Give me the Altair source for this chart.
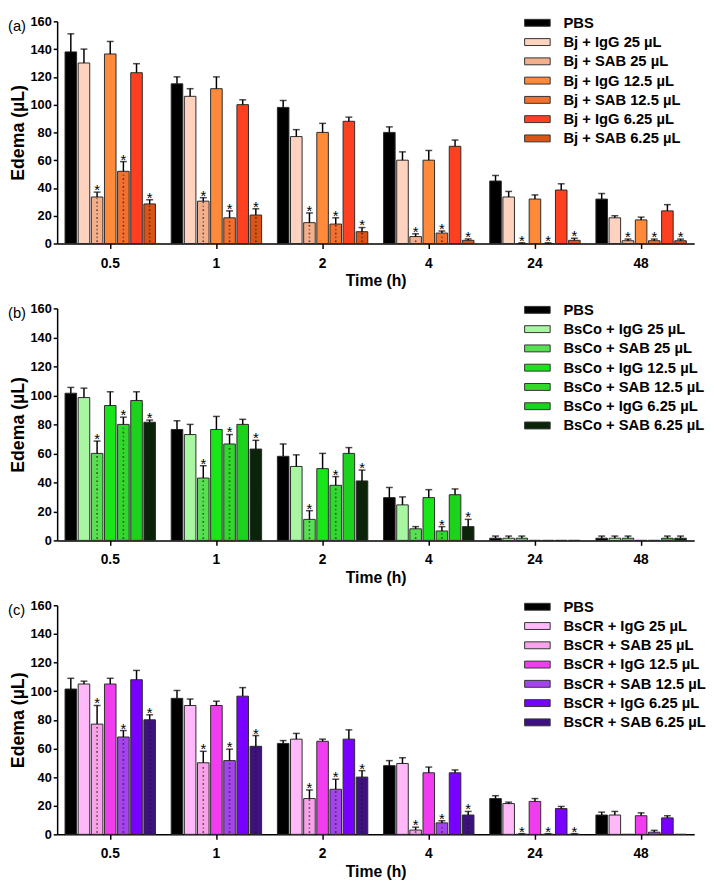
import altair as alt
import pandas as pd

times = ["0.5", "1", "2", "4", "24", "48"]
kinds = ["PBS", "IgG 25 µL", "SAB 25 µL", "IgG 12.5 µL", "SAB 12.5 µL", "IgG 6.25 µL", "SAB 6.25 µL"]

# ---------- panel (a) Bj ----------
a_vals = [
    [138, 115, 98, 80, 45, 32],
    [130, 106, 77, 60, 33.5, 18.5],
    [33.5, 30.5, 15, 5, 0, 2],
    [136.5, 111.5, 80, 60, 32, 17],
    [52, 18.5, 14, 7.5, 0, 2],
    [123, 100, 88, 70, 38.5, 23.5],
    [28.5, 20.5, 8.5, 2.3, 2.3, 2],
]
a_errs = [
    [13, 5, 5, 4, 4, 4],
    [10, 5.5, 5, 6, 4, 1.5],
    [3.5, 2.5, 7, 2, 0.5, 1.2],
    [9, 8.5, 6.5, 7, 3, 2],
    [7, 5, 4.5, 1.5, 0.5, 1.2],
    [6.5, 3.5, 3, 4.5, 4.5, 4.5],
    [3, 4.5, 3, 1, 1.5, 1.2],
]
a_stars = [
    [0, 0, 0, 0, 0, 0],
    [0, 0, 0, 0, 0, 0],
    [1, 1, 1, 1, 1, 1],
    [0, 0, 0, 0, 0, 0],
    [1, 1, 1, 1, 1, 1],
    [0, 0, 0, 0, 0, 0],
    [1, 1, 1, 1, 1, 1],
]
a_colors = ["#000000", "#FDD3C0", "#F4B08C", "#FF8A3A", "#F27030", "#FF4020", "#DA5418"]

# ---------- panel (b) BsCo ----------
b_vals = [
    [101.5, 76.5, 58, 29.5, 1.5, 1.5],
    [98.5, 73, 51, 24.5, 1.5, 1.5],
    [60, 43, 14.5, 8, 1.5, 1.5],
    [93, 76.5, 49.5, 29.5, 0, 0],
    [80, 66.5, 38, 6.5, 0, 0],
    [96.5, 80, 60, 31.5, 0, 1.5],
    [81.5, 63, 41, 9.5, 0, 1.5],
]
b_errs = [
    [4, 6, 8.5, 7, 1.5, 1.5],
    [6.5, 7, 8, 5.5, 1.5, 1.5],
    [8.5, 8.5, 6, 1.5, 1.5, 1.5],
    [9.5, 9, 10.5, 5.5, 0, 0],
    [5, 6.5, 6, 3, 0, 0],
    [6, 3.5, 4, 4, 0, 1.5],
    [1.5, 6, 7.5, 5, 0, 1.5],
]
b_stars = [
    [0, 0, 0, 0, 0, 0],
    [0, 0, 0, 0, 0, 0],
    [1, 1, 1, 0, 0, 0],
    [0, 0, 0, 0, 0, 0],
    [1, 1, 1, 1, 0, 0],
    [0, 0, 0, 0, 0, 0],
    [1, 1, 1, 1, 0, 0],
]
b_colors = ["#000000", "#A8F5A2", "#58E054", "#19E619", "#30D830", "#1CD21C", "#0A240A"]

# ---------- panel (c) BsCR ----------
c_vals = [
    [101.5, 95, 63.5, 48, 25, 13.5],
    [105, 90, 66.5, 49.5, 21.5, 13.5],
    [77, 50, 25, 3, 0, 0],
    [105, 90, 65, 43, 23, 13],
    [68, 51.5, 31.5, 8, 0, 1.5],
    [108, 96.5, 66.5, 43, 18, 11.5],
    [80, 61.5, 40, 13.5, 0, 0],
]
c_errs = [
    [7.5, 5.5, 2, 3.5, 2, 2],
    [2, 4.5, 4, 4, 1, 2.5],
    [13, 8, 6, 2, 0.5, 0],
    [4, 3, 1.5, 4, 2, 2],
    [4.5, 8, 7, 1.5, 0.5, 1.3],
    [6.5, 6, 6.5, 2, 1.5, 1.5],
    [3.5, 7.5, 4.5, 2.5, 0.5, 0],
]
c_stars = [
    [0, 0, 0, 0, 0, 0],
    [0, 0, 0, 0, 0, 0],
    [1, 1, 1, 1, 1, 0],
    [0, 0, 0, 0, 0, 0],
    [1, 1, 1, 1, 1, 0],
    [0, 0, 0, 0, 0, 0],
    [1, 1, 1, 1, 1, 0],
]
c_colors = ["#000000", "#FFB8F8", "#F7A2EA", "#F03DF0", "#A444EC", "#7800FF", "#3D1280"]

FONT = "Liberation Sans"
W = 648


def panel(tag, prefix, vals, errs, stars, colors, height):
    labels = ["PBS"] + [f"{prefix} + {k}" for k in kinds[1:]]
    rows = []
    for s, lab in enumerate(labels):
        for t, tm in enumerate(times):
            v = vals[s][t]
            e = errs[s][t]
            rows.append(dict(time=tm, series=lab, value=v, err=e, upper=v + e,
                             dotted=1 if "SAB" in lab else 0,
                             star="*" if stars[s][t] else ""))
    df = pd.DataFrame(rows)

    x = alt.X("time:N", sort=times,
              scale=alt.Scale(paddingInner=0, paddingOuter=0),
              axis=alt.Axis(title="Time (h)", labelAngle=0, labelFont=FONT, labelFontSize=14,
                            labelFontWeight="bold", labelColor="black", labelPadding=8,
                            tickSize=5, tickWidth=1.5, tickColor="black",
                            domainColor="black", domainWidth=1.5,
                            titleFont=FONT, titleFontSize=16, titleFontWeight="bold",
                            titleColor="black", titlePadding=3))
    xo = alt.XOffset("series:N", sort=labels,
                     scale=alt.Scale(domain=labels, paddingInner=0.12, paddingOuter=0.6))
    yaxis = alt.Axis(title="Edema (µL)", values=list(range(0, 161, 20)), grid=False,
                     labelOverlap=False,
                     labelFont=FONT, labelFontSize=13, labelFontWeight="bold",
                     labelColor="black", labelPadding=2,
                     tickSize=4, tickWidth=1.5, tickColor="black",
                     domainColor="black", domainWidth=1.5,
                     titleFont=FONT, titleFontSize=18, titleFontWeight="bold",
                     titleColor="black", titlePadding=3)
    yscale = alt.Scale(domain=[0, 160], nice=False)

    def Y(field):
        return alt.Y(field, stack=None, scale=yscale, axis=yaxis, title="Edema (µL)")

    color = alt.Color("series:N", sort=labels,
                      scale=alt.Scale(domain=labels, range=colors),
                      legend=alt.Legend(title=None, orient="none", legendX=481, legendY=-6,
                                        padding=0, symbolType="M-2,-0.54H2V0.54H-2Z",
                                        symbolSize=169, symbolStrokeColor="#333",
                                        symbolStrokeWidth=1, labelOffset=19,
                                        labelFont=FONT, labelFontSize=15,
                                        labelFontWeight="bold", labelColor="black",
                                        rowPadding=3.6, labelLimit=300))

    base = alt.Chart(df)
    bars = base.mark_bar(stroke="#2a2a2a", strokeWidth=1).encode(
        x=x, xOffset=xo, y=Y("value:Q"), color=color)

    # dotted texture for the SAB bars
    dots = (base.transform_filter("datum.dotted == 1 && datum.value > 2.5")
            .transform_calculate(d="sequence(1.6, datum.value - 0.8, 2.8)")
            .transform_flatten(["d"])
            .transform_calculate(par="round((datum.d - 1.6) / 2.8) % 2"))
    dot_layers = []
    for parity, dxs in ((0, (-3, 3)), (1, (0,))):
        for dxv in dxs:
            dot_layers.append(
                dots.transform_filter(f"datum.par == {parity}")
                .mark_square(size=2.5, color="#2a1408", opacity=0.45, dx=dxv)
                .encode(x=x, xOffset=xo, y=Y("d:Q")))

    err = base.transform_filter("datum.err > 0")
    rule = err.mark_rule(color="black", strokeWidth=1.5).encode(
        x=x, xOffset=xo, y=Y("value:Q"), y2="upper:Q")
    cap = err.mark_tick(color="black", thickness=1.5, size=7, orient="horizontal").encode(
        x=x, xOffset=xo, y=Y("upper:Q"))
    star = base.transform_filter("datum.star != ''").mark_text(
        font=FONT, fontSize=15, baseline="alphabetic", dy=3, color="black").encode(
        x=x, xOffset=xo, y=Y("upper:Q"), text="star:N")
    tag_df = pd.DataFrame({"t": [tag]})
    tagt = alt.Chart(tag_df).mark_text(font=FONT, fontSize=15, align="left",
                                       baseline="middle", color="black").encode(
        text="t:N", x=alt.value(-50), y=alt.value(5))
    return alt.layer(bars, *dot_layers, rule, cap, star, tagt).properties(width=W, height=height)


pa = panel("(a)", "Bj", a_vals, a_errs, a_stars, a_colors, 226)
pb = panel("(b)", "BsCo", b_vals, b_errs, b_stars, b_colors, 236)
pc = panel("(c)", "BsCR", c_vals, c_errs, c_stars, c_colors, 233)

chart = alt.vconcat(pa, pb, pc, spacing=66, bounds="flush").resolve_scale(
    color="independent", xOffset="independent", x="independent", y="independent"
).properties(padding=0).configure_view(stroke=None)

chart.save("out.html", embed_options={"renderer": "svg", "actions": False})
